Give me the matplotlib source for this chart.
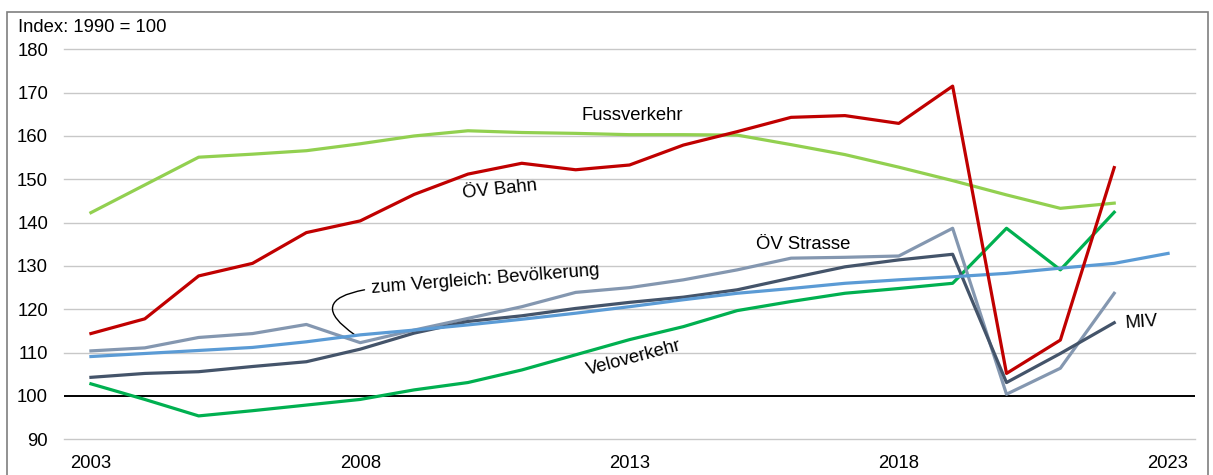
import matplotlib
matplotlib.use("Agg")
import matplotlib.pyplot as plt
from matplotlib.patches import Rectangle

plt.rcParams['font.family'] = ['Liberation Sans', 'DejaVu Sans']

years = list(range(2003, 2023))
years_bev = list(range(2003, 2024))

fuss = [142.3, 148.7, 155.1, 155.8, 156.6, 158.2, 160.0, 161.2, 160.8, 160.6,
        160.3, 160.3, 160.2, 158.0, 155.7, 152.8, 149.7, 146.4, 143.3, 144.5]
bahn = [114.4, 117.8, 127.7, 130.6, 137.7, 140.4, 146.5, 151.2, 153.7, 152.2,
        153.3, 157.9, 161.0, 164.3, 164.7, 162.9, 171.5, 105.2, 112.9, 152.7]
bev = [109.1, 109.8, 110.5, 111.2, 112.5, 114.1, 115.2, 116.4, 117.7, 119.1,
       120.6, 122.2, 123.7, 124.8, 126.0, 126.8, 127.5, 128.3, 129.5, 130.6, 132.9]
oev_strasse = [110.4, 111.1, 113.5, 114.4, 116.5, 112.3, 115.2, 117.9, 120.6, 123.9,
               125.0, 126.8, 129.1, 131.8, 132.0, 132.3, 138.7, 100.4, 106.4, 123.7]
miv = [104.3, 105.2, 105.6, 106.8, 107.9, 110.8, 114.5, 117.2, 118.5, 120.2,
       121.6, 122.8, 124.5, 127.2, 129.8, 131.4, 132.7, 103.1, 109.8, 116.9]
velo = [102.8, 99.2, 95.4, 96.6, 97.9, 99.2, 101.4, 103.1, 106.0, 109.5,
        113.0, 116.0, 119.7, 121.8, 123.7, 124.8, 126.0, 138.7, 129.1, 142.4]

y_ticks = [90, 100, 110, 120, 130, 140, 150, 160, 170, 180]
x_ticks = [2003, 2008, 2013, 2018, 2023]

fig = plt.figure(figsize=(12.13, 4.75), dpi=100)
ax = fig.add_axes([64/1213, 1-439.3/475, (1195-64)/1213, (439.3-49.3)/475])

# frame around figure
fig.patches.append(Rectangle((7/1213, -0.02), (1208-7)/1213, 1-12/475+0.02,
                             transform=fig.transFigure, fill=False,
                             edgecolor='#7f7f7f', linewidth=1.2))

for yv in y_ticks:
    if yv == 100:
        continue
    ax.axhline(yv, color='#c8c8c8', linewidth=1.0, zorder=0, clip_on=False)
ax.axhline(100, color='black', linewidth=1.4, zorder=1)

lw = 2.3
ax.plot(years, fuss, color='#92D050', linewidth=lw, zorder=2)
ax.plot(years, velo, color='#00B050', linewidth=lw, zorder=3)
ax.plot(years, oev_strasse, color='#8497B0', linewidth=lw, zorder=4)
ax.plot(years, miv, color='#44546A', linewidth=lw, zorder=5)
ax.plot(years_bev, bev, color='#5B9BD5', linewidth=lw, zorder=6)
ax.plot(years, bahn, color='#C00000', linewidth=lw, zorder=7)

ax.set_xlim(2002.5, 2023.5)
ax.set_ylim(90, 180)
ax.set_yticks(y_ticks)
ax.set_xticks(x_ticks)
ax.tick_params(axis='both', length=0, labelsize=13.3, colors='black')
ax.tick_params(axis='y', pad=11.5)
ax.tick_params(axis='x', pad=11.1)
for s in ax.spines.values():
    s.set_visible(False)

fs = 13.3
ax.text(2012.1, 163.7, 'Fussverkehr', fontsize=fs, ha='left', va='baseline')
ax.text(2009.9, 145.6, 'ÖV Bahn', fontsize=fs, ha='left', va='baseline',
        rotation=6, rotation_mode='anchor')
ax.text(2015.35, 133.85, 'ÖV Strasse', fontsize=fs, ha='left', va='baseline')
ax.text(2008.21, 123.8, 'zum Vergleich: Bevölkerung', fontsize=fs, ha='left',
        va='baseline', rotation=4.5, rotation_mode='anchor')
ax.text(2012.23, 104.8, 'Veloverkehr', fontsize=fs, ha='left', va='baseline',
        rotation=15, rotation_mode='anchor')
ax.text(2022.21, 115.6, 'MIV', fontsize=fs, ha='left', va='baseline',
        rotation=4, rotation_mode='anchor')

ax.annotate('', xy=(2007.9, 114.1), xytext=(2008.08, 124.5),
            arrowprops=dict(arrowstyle='-', color='black', linewidth=1.0,
                            connectionstyle='arc3,rad=1.2',
                            shrinkA=0, shrinkB=0))

fig.text(18/1213, 1-28/475, 'Index: 1990 = 100', fontsize=fs, ha='left', va='center')

fig.savefig('out.png', dpi=100)
